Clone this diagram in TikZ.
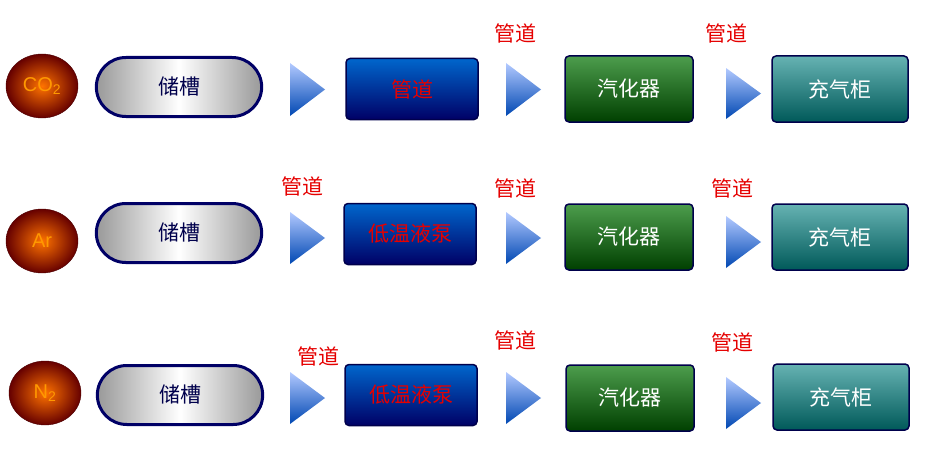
\documentclass[tikz,border=0pt]{standalone}
\usepackage{fontspec}
\setmainfont{Liberation Sans}
\newfontfamily\cjk{Noto Sans CJK SC}
\usetikzlibrary{shapes.geometric,shapes.misc}
\tikzset{
  gas/.style={ellipse, minimum width=72pt, minimum height=64pt, inner color=orange!90!red, outer color=red!40!black, draw=red!30!black, text=orange!80!yellow, font=\fontsize{20}{20}\selectfont},
  tank/.style={rounded rectangle, minimum width=172pt, minimum height=59pt, draw=blue!40!black, line width=3pt, left color=gray!80, right color=gray!80, middle color=white, font=\cjk\fontsize{21}{21}\selectfont, text=blue!30!black},
  bluebox/.style={rectangle, rounded corners=4pt, minimum width=132pt, minimum height=61pt, draw=blue!30!black, line width=1.5pt, top color=blue!50!cyan!80!black, bottom color=blue!40!black, text=red!90!black, font=\cjk\fontsize{21}{21}\selectfont},
  greenbox/.style={rectangle, rounded corners=4pt, minimum width=128pt, minimum height=66pt, draw=blue!30!black, line width=1.5pt, top color=green!45!black!70!white, bottom color=green!25!black, text=white, font=\cjk\fontsize{21}{21}\selectfont},
  tealbox/.style={rectangle, rounded corners=4pt, minimum width=136pt, minimum height=66pt, draw=blue!30!black, line width=1.5pt, top color=teal!60!white, bottom color=teal!70!black, text=white, font=\cjk\fontsize{21}{21}\selectfont},
  pipe/.style={text=red!90!black, font=\cjk\fontsize{21}{21}\selectfont, inner sep=0pt},
  arrowtri/.style={top color=cyan!30!blue!30!white, bottom color=cyan!40!blue!70!black, draw=none}
}
\newcommand{\tri}[3]{% left x, top y, bottom y
  \shade[arrowtri] (#1,#2) -- (#1+35,{(#2+#3)/2}) -- (#1,#3) -- cycle;}
\begin{document}
\begin{tikzpicture}[x=1pt,y=-1pt]
\useasboundingbox (0,0) rectangle (939,452);
% row 1
\node[gas] (co) at (42,86) {CO\textsubscript{2}};
\node[tank] (tank1) at (179,87) {储槽};
\tri{290}{63}{116}
\node[bluebox] (pipebox) at (412,89) {管道};
\node[pipe] (p12) at (515,33) {管道};
\tri{506}{63}{116}
\node[greenbox] (vap1) at (629,89) {汽化器};
\node[pipe] (p13) at (726,33) {管道};
\tri{726}{68}{119}
\node[tealbox] (cab1) at (840,89) {充气柜};
% row 2
\node[gas] (ar) at (42,241) {Ar};
\node[tank] (tank2) at (179,233) {储槽};
\node[pipe] (p21) at (302,186) {管道};
\tri{290}{212}{264}
\node[bluebox] (pump2) at (410,234) {低温液泵};
\node[pipe] (p22) at (515,188) {管道};
\tri{506}{212}{264}
\node[greenbox] (vap2) at (629,237) {汽化器};
\node[pipe] (p23) at (732,188) {管道};
\tri{726}{216}{268}
\node[tealbox] (cab2) at (840,237) {充气柜};
% row 3
\node[gas] (n) at (45,393) {N\textsubscript{2}};
\node[tank] (tank3) at (180,395) {储槽};
\node[pipe] (p31) at (318,356) {管道};
\tri{290}{372}{424}
\node[bluebox] (pump3) at (411,395) {低温液泵};
\node[pipe] (p32) at (515,340) {管道};
\tri{506}{372}{424}
\node[greenbox] (vap3) at (630,398) {汽化器};
\node[pipe] (p33) at (732,342) {管道};
\tri{726}{377}{429}
\node[tealbox] (cab3) at (841,397) {充气柜};
\end{tikzpicture}
\end{document}
